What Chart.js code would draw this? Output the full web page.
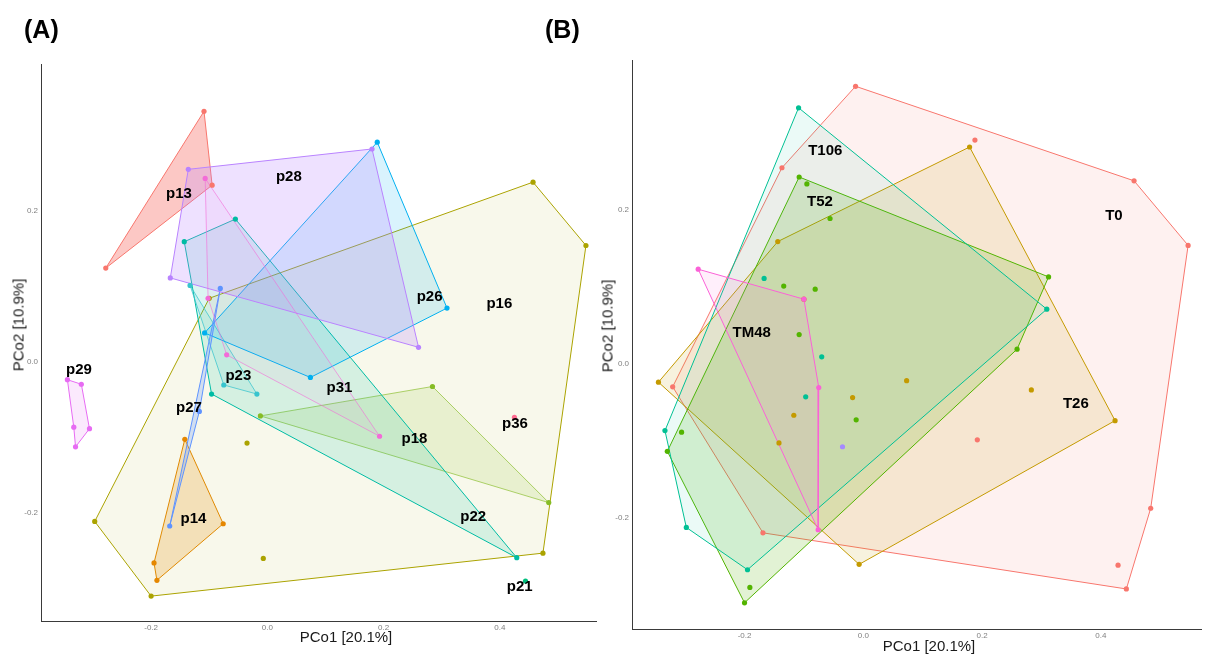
<!DOCTYPE html>
<html>
<head>
<meta charset="utf-8">
<title>PCoA hulls</title>
<script src="https://cdn.jsdelivr.net/npm/chart.js@4.4.1/dist/chart.umd.min.js"></script>
<style>
  html, body { margin: 0; padding: 0; background: #fff; }
  body { width: 1205px; height: 654px; position: relative; overflow: hidden;
         font-family: "Liberation Sans", Arial, sans-serif; }
  canvas { position: absolute; top: 0; }
  #cA { left: 0; }
  #cB { left: 591px; }
  .tag { position: absolute; font-weight: bold; font-size: 25px; line-height: 25px; color: #000; }
  .xt, .yt { position: absolute; font-size: 15px; color: #1a1a1a; white-space: nowrap; line-height: 1; }
  .xt { transform: translate(-50%, -50%); }
  .yt { transform: translate(-50%, -50%) rotate(-90deg); }
</style>
</head>
<body>
<canvas id="cA" width="600" height="654"></canvas>
<canvas id="cB" width="614" height="654"></canvas>
<div class="tag" style="left:24px;top:17px;">(A)</div>
<div class="tag" style="left:545px;top:17px;">(B)</div>
<div class="xt" style="left:346px;top:636px;">PCo1 [20.1%]</div>
<div class="xt" style="left:929px;top:645px;">PCo1 [20.1%]</div>
<div class="yt" style="left:18px;top:325px;">PCo2 [10.9%]</div>
<div class="yt" style="left:607px;top:326px;">PCo2 [10.9%]</div>
<script>
// ---------- shared axis ticks ----------
const xTickValues = [-0.2, 0, 0.2, 0.4];
const yTickValues = [-0.2, 0, 0.2];

// ---------- Panel A: samples grouped by individual ----------
const groupsA = ['p13', 'p14', 'p16', 'p18', 'p21', 'p22', 'p23', 'p26', 'p27', 'p28', 'p29', 'p31', 'p36'];

// hull vertices (PCo1, PCo2), in drawing order
const p13Hull = [[-0.109, 0.332], [-0.095, 0.234], [-0.278, 0.124]];
const p14Hull = [[-0.142, -0.103], [-0.076, -0.215], [-0.190, -0.290], [-0.195, -0.267]];
const p16Hull = [[-0.100, 0.084], [0.457, 0.238], [0.548, 0.154], [0.474, -0.254], [-0.200, -0.311], [-0.297, -0.212]];
const p18Hull = [[-0.012, -0.072], [0.284, -0.033], [0.484, -0.187]];
const p22Hull = [[-0.055, 0.189], [0.429, -0.260], [-0.096, -0.043], [-0.143, 0.159]];
const p23Hull = [[-0.133, 0.101], [-0.018, -0.043], [-0.075, -0.031]];
const p26Hull = [[0.189, 0.291], [0.309, 0.071], [0.074, -0.021], [-0.108, 0.038]];
const p27Hull = [[-0.081, 0.097], [-0.117, -0.066], [-0.168, -0.218]];
const p28Hull = [[-0.136, 0.255], [0.180, 0.282], [0.260, 0.019], [-0.167, 0.111]];
const p29Hull = [[-0.344, -0.024], [-0.320, -0.030], [-0.306, -0.089], [-0.330, -0.113], [-0.333, -0.087]];
const p31Hull = [[-0.107, 0.243], [0.193, -0.099], [-0.070, 0.009], [-0.102, 0.084]];

// samples that are not hull vertices
const p16Inner = [[-0.035, -0.108], [-0.007, -0.261]];
const p21Inner = [[0.444, -0.291]];
const p36Inner = [[0.425, -0.074]];

const hullsA = [p13Hull, p14Hull, p16Hull, p18Hull, [], p22Hull, p23Hull, p26Hull, p27Hull, p28Hull, p29Hull, p31Hull, []];
const innerA = [[], [], p16Inner, [], p21Inner, [], [], [], [], [], [], [], p36Inner];

// group label anchors
const labelPosA = [[-0.152, 0.222], [-0.127, -0.208], [0.399, 0.076], [0.253, -0.103], [0.434, -0.299],
                   [0.354, -0.206], [-0.050, -0.019], [0.279, 0.086], [-0.135, -0.061], [0.037, 0.245],
                   [-0.324, -0.011], [0.124, -0.035], [0.426, -0.082]];

// ---------- Panel B: samples grouped by time point ----------
const groupsB = ['T0', 'T26', 'T52', 'T106', 'T9', 'TM48'];

const T0Hull = [[-0.013, 0.361], [0.456, 0.238], [0.547, 0.154], [0.484, -0.188], [0.443, -0.293],
                [-0.169, -0.220], [-0.321, -0.030], [-0.137, 0.255]];
const T26Hull = [[0.179, 0.282], [0.424, -0.074], [-0.007, -0.261], [-0.345, -0.024], [-0.144, 0.159]];
const T52Hull = [[-0.108, 0.243], [0.312, 0.113], [0.259, 0.019], [-0.200, -0.311], [-0.330, -0.114]];
const T106Hull = [[-0.109, 0.333], [0.309, 0.071], [-0.195, -0.268], [-0.298, -0.213], [-0.334, -0.087]];
const TM48Hull = [[-0.278, 0.123], [-0.100, 0.084], [-0.075, -0.031], [-0.076, -0.216]];

const T0Inner = [[0.188, 0.291], [0.192, -0.099], [0.429, -0.262]];
const T26Inner = [[-0.100, 0.084], [-0.117, -0.067], [-0.142, -0.103], [-0.018, -0.044], [0.073, -0.022], [0.283, -0.034]];
const T52Inner = [[-0.095, 0.234], [-0.056, 0.189], [-0.134, 0.101], [-0.081, 0.097], [-0.108, 0.038],
                  [-0.306, -0.089], [-0.012, -0.073], [-0.191, -0.291]];
const T106Inner = [[-0.167, 0.111], [-0.070, 0.009], [-0.097, -0.043]];
const T9Inner = [[-0.035, -0.108]];

const hullsB = [T0Hull, T26Hull, T52Hull, T106Hull, [], TM48Hull];
const innerB = [T0Inner, T26Inner, T52Inner, T106Inner, T9Inner, []];

const labelNamesB = ['T0', 'T26', 'T52', 'T106', 'TM48'];
const labelPosB = [[0.422, 0.193], [0.358, -0.052], [-0.073, 0.211], [-0.064, 0.277], [-0.188, 0.040]];

// ---------- styling ----------
const colorsA = ['#F8766D', '#E58700', '#ABA300', '#86BC25', '#00BF7D', '#00BCA4', '#38C4CE',
                 '#00B0F0', '#5E93FF', '#B983FF', '#E76BF3', '#F36BD8', '#FF6C91'];
const fillAlphaA = [0.40, 0.22, 0.08, 0.14, 0.15, 0.14, 0.12, 0.15, 0.25, 0.24, 0.15, 0.06, 0.15];
const lineAlphaA = [1, 1, 1, 0.65, 1, 1, 0.75, 1, 1, 1, 1, 0.6, 1];

const colorsB = ['#F8766D', '#C49A00', '#53B400', '#00C094', '#A58AFF', '#FB61D7'];
const fillAlphaB = [0.10, 0.13, 0.17, 0.08, 0.1, 0.10];

const FONT = '"Liberation Sans", Arial, sans-serif';

function rgba(hex, a) {
  const n = parseInt(hex.slice(1), 16);
  return `rgba(${(n >> 16) & 255},${(n >> 8) & 255},${n & 255},${a})`;
}
const toXY = arr => arr.map(p => ({ x: p[0], y: p[1] }));

function buildDatasets(groups, hulls, inner, colors, fillAlpha, lineAlpha) {
  const sets = [];
  groups.forEach((g, i) => {
    const hull = hulls[i];
    if (hull.length) {
      sets.push({
        label: g + ' hull',
        data: toXY(hull.concat([hull[0]])),
        borderColor: rgba(colors[i], lineAlpha ? lineAlpha[i] : 1),
        backgroundColor: rgba(colors[i], fillAlpha[i]),
        borderWidth: 1,
        fill: 'shape',
        tension: 0,
        pointRadius: 0,
        pointHoverRadius: 0,
        order: 200 - i
      });
    }
    const pts = hull.concat(inner[i]);
    sets.push({
      label: g,
      data: toXY(pts),
      showLine: false,
      fill: false,
      pointRadius: 2.6,
      pointBorderWidth: 0,
      pointBackgroundColor: colors[i],
      backgroundColor: colors[i],
      borderColor: colors[i],
      order: 100 - i
    });
  });
  return sets;
}

// draws group names at their anchor positions through the chart scales
function groupLabels(names, pos) {
  return {
    id: 'groupLabels',
    afterDatasetsDraw(chart) {
      const { ctx, scales: { x, y } } = chart;
      ctx.save();
      ctx.font = 'bold 15px ' + FONT;
      ctx.fillStyle = '#000';
      ctx.textAlign = 'center';
      ctx.textBaseline = 'middle';
      names.forEach((n, i) => {
        ctx.fillText(n, x.getPixelForValue(pos[i][0]), y.getPixelForValue(pos[i][1]));
      });
      ctx.restore();
    }
  };
}

function axisCommon(values, extra) {
  return Object.assign({
    type: 'linear',
    grid: { display: false, drawTicks: false },
    border: { display: true, color: '#3a3a3a', width: 1 },
    ticks: {
      font: { size: 8, family: FONT },
      color: '#808080',
      autoSkip: false,
      maxRotation: 0,
      callback: v => v.toFixed(1)
    },
    afterBuildTicks: s => { s.ticks = values.map(v => ({ value: v })); }
  }, extra);
}

function makeChart(id, datasets, plugin, xMin, xMax, yMin, yMax, padTop, padRight, xAxisH) {
  const xs = axisCommon(xTickValues, { position: 'bottom', min: xMin, max: xMax,
    afterFit: s => { s.height = xAxisH; } });
  xs.ticks.padding = 2;
  const ys = axisCommon(yTickValues, { position: 'left', min: yMin, max: yMax,
    afterFit: s => { s.width = 41; } });
  ys.ticks.padding = 3;
  return new Chart(document.getElementById(id), {
    type: 'line',
    data: { datasets },
    options: {
      responsive: false,
      animation: false,
      devicePixelRatio: 1,
      layout: { padding: { top: padTop, right: padRight, left: 0, bottom: 0 } },
      plugins: { legend: { display: false }, tooltip: { enabled: false } },
      scales: { x: xs, y: ys }
    },
    plugins: [plugin]
  });
}

makeChart('cA',
  buildDatasets(groupsA, hullsA, innerA, colorsA, fillAlphaA, lineAlphaA),
  groupLabels(groupsA, labelPosA),
  -0.3894, 0.5653, -0.3440, 0.3947, 64, 1, 33);

makeChart('cB',
  buildDatasets(groupsB, hullsB, innerB, colorsB, fillAlphaB, null),
  groupLabels(labelNamesB, labelPosB),
  -0.3895, 0.5687, -0.3451, 0.3952, 60, 0, 25);
</script>
</body>
</html>
